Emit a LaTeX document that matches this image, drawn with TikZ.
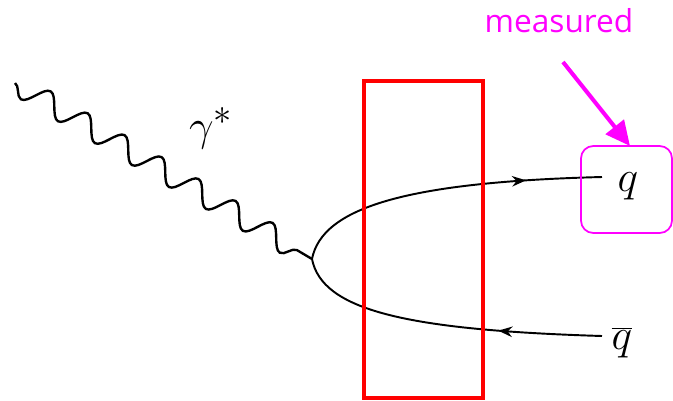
\documentclass[tikz,border=0pt]{standalone}
\usepackage{fontspec}
\usepackage{tikz}
\usetikzlibrary{arrows.meta,positioning,calc,decorations.pathmorphing,decorations.markings}
\newfontfamily\measfont{Open Sans}
\definecolor{meas}{HTML}{FF00FF}

\tikzset{
  photon/.style={decorate, decoration={snake, segment length=0.86cm, amplitude=-0.22cm}, line width=1.35pt},
  fermion/.style={line width=1.1pt, postaction={decorate}, decoration={markings,
      mark=at position #1 with {\arrow{Stealth[length=8pt,width=6pt]}}}},
  antifermion/.style={line width=1.1pt, postaction={decorate}, decoration={markings,
      mark=at position #1 with {\arrowreversed{Stealth[length=8pt,width=6pt]}}}},
  lbl/.style={font=\fontsize{29}{32}\selectfont, inner sep=1pt},
}

\begin{document}
\begin{tikzpicture}[x=0.02cm, y=-0.02cm]
  \useasboundingbox (0,0) rectangle (673,400);

  % photon coming in
  \coordinate (pstart) at (15,83);
  \coordinate (vtx) at (312,259);
  \draw[photon] (pstart) -- (vtx);
  \node[lbl] (gam) at (211,128) {$\gamma^*$};

  % quark pair
  \coordinate (qend) at (602,177);
  \coordinate (qbend) at (602,336);
  \draw[fermion=0.76] (vtx) .. controls (322,208) and (405,182) .. (qend);
  \draw[antifermion=0.67] (vtx) .. controls (322,310) and (405,330) .. (qbend);
  \node[lbl] (q) at (628,186) {$q$};
  \node[lbl] (qb) at (622,343) {$\overline{q}$};

  % selected region
  \draw[red, line width=2.4pt] (364,81) rectangle (483,398);

  % measured quark
  \draw[meas, line width=1pt, rounded corners=7pt] (581,146) rectangle (672,233);
  \coordinate (boxtop) at (630,146);
  \node[font=\measfont\fontsize{18}{21}\selectfont, text=meas] (meas) at (559,21) {measured};
  \coordinate (astart) at (563,62);
  \draw[meas, line width=2.3pt, -{Triangle[length=14pt,width=13pt]}] (astart) -- (boxtop);
\end{tikzpicture}
\end{document}
